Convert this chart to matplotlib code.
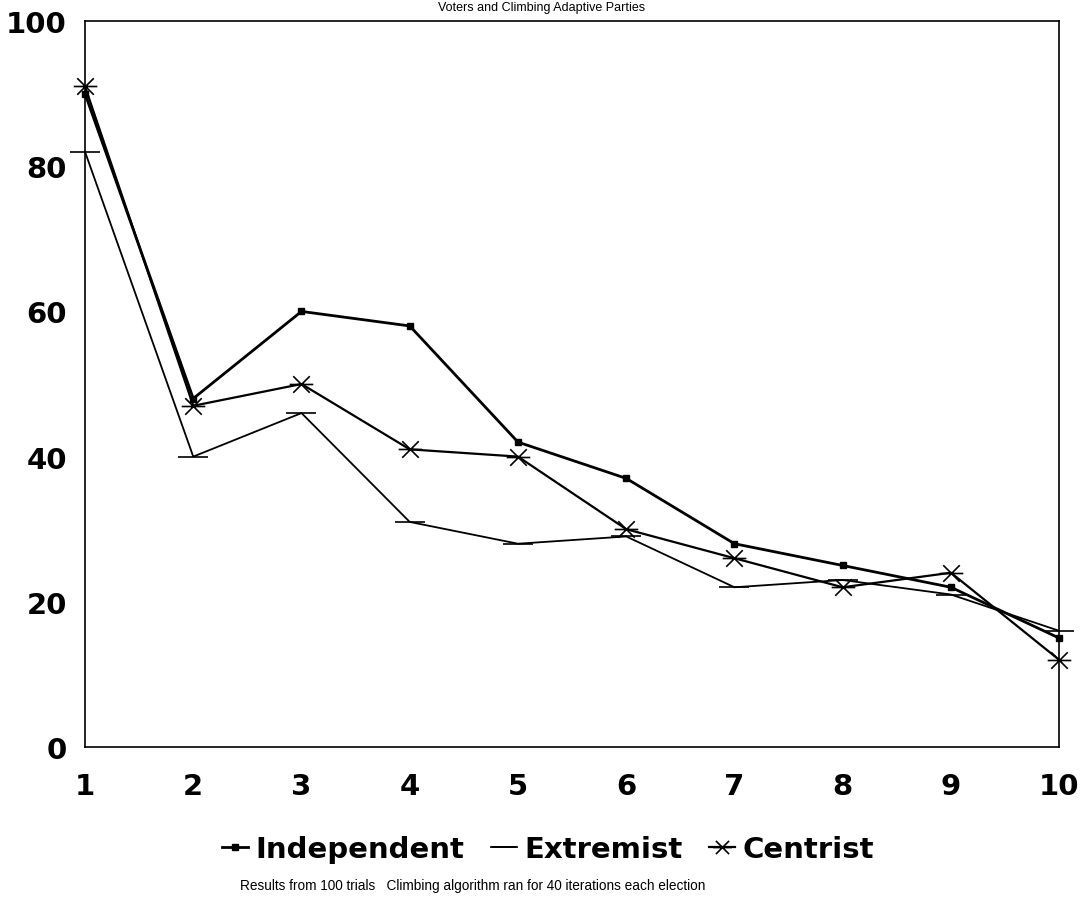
import matplotlib
matplotlib.use("Agg")
import matplotlib.pyplot as plt
from matplotlib.path import Path

plt.rcParams['font.family'] = ['Liberation Sans', 'DejaVu Sans']

elections = [1, 2, 3, 4, 5, 6, 7, 8, 9, 10]
independent = [90, 48, 60, 58, 42, 37, 28, 25, 22, 15]
extremist = [82, 40, 46, 31, 28, 29, 22, 23, 21, 16]
centrist = [91, 47, 50, 41, 40, 30, 26, 22, 24, 12]
yticks = [0, 20, 40, 60, 80, 100]

title = "Voters and Climbing Adaptive Parties"
caption = "Results from 100 trials   Climbing algorithm ran for 40 iterations each election"

# asterisk marker: X plus horizontal bar
ast = Path([(-0.7, -0.7), (0.7, 0.7), (-0.7, 0.7), (0.7, -0.7), (-1, 0), (1, 0)],
           [Path.MOVETO, Path.LINETO, Path.MOVETO, Path.LINETO, Path.MOVETO, Path.LINETO])

fig = plt.figure(figsize=(10.83, 9.2), dpi=100)
ax = fig.add_axes([0.0785, 0.187, 0.8995, 0.789])

l1, = ax.plot(elections, independent, color='black', lw=2.0, marker='s', ms=5,
              label='Independent', clip_on=False)
l2, = ax.plot(elections, extremist, color='black', lw=1.3, marker='_', ms=22,
              mew=1.2, label='Extremist', clip_on=False)
l3, = ax.plot(elections, centrist, color='black', lw=1.6, marker=ast, ms=17,
              mew=1.2, label='Centrist', clip_on=False)

ax.set_xlim(1, 10)
ax.set_ylim(0, 100)
ax.set_xticks(elections)
ax.set_yticks(yticks)
ax.tick_params(axis='both', direction='in', length=0, labelsize=21)
ax.tick_params(axis='x', pad=18)
ax.tick_params(axis='y', pad=13)
for lab in ax.get_xticklabels() + ax.get_yticklabels():
    lab.set_fontweight('bold')
    lab.set_family('DejaVu Sans')
for s in ax.spines.values():
    s.set_linewidth(1.2)

fig.text(0.5, 0.991, title, ha='center', va='center', fontsize=9)

fig.legend(handles=[l1, l2, l3], loc='center', bbox_to_anchor=(0.506, 0.076),
           ncol=3, frameon=False, handlelength=0.9, handletextpad=0.25,
           columnspacing=0.9, markerscale=0.8,
           prop={'size': 21, 'weight': 'bold', 'family': 'DejaVu Sans'})

fig.text(0.436, 0.037, caption, ha='center', va='center', fontsize=9.8)

fig.savefig('out.png', dpi=100)
